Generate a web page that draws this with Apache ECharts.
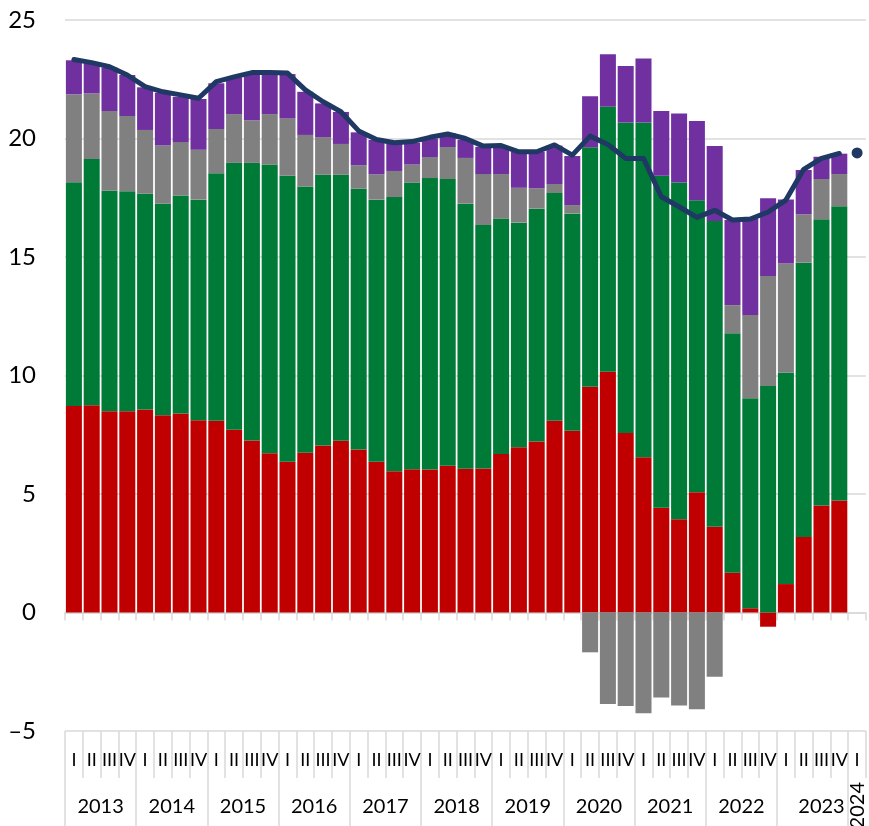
<!DOCTYPE html>
<html>
<head>
<meta charset="utf-8">
<script src="https://cdn.jsdelivr.net/npm/echarts@6/dist/echarts.min.js"></script>
<style>
  html, body { margin: 0; padding: 0; background: #ffffff; }
  #chart { width: 869px; height: 826px; }
</style>
</head>
<body>
<div id="chart"></div>
<script>
// Quarterly categories, 2013 Q1 – 2024 Q1
const categories = [
  '2013 I','2013 II','2013 III','2013 IV',
  '2014 I','2014 II','2014 III','2014 IV',
  '2015 I','2015 II','2015 III','2015 IV',
  '2016 I','2016 II','2016 III','2016 IV',
  '2017 I','2017 II','2017 III','2017 IV',
  '2018 I','2018 II','2018 III','2018 IV',
  '2019 I','2019 II','2019 III','2019 IV',
  '2020 I','2020 II','2020 III','2020 IV',
  '2021 I','2021 II','2021 III','2021 IV',
  '2022 I','2022 II','2022 III','2022 IV',
  '2023 I','2023 II','2023 III','2023 IV',
  '2024 I'
];

// Value axis ticks
const yTicks = [-5, 0, 5, 10, 15, 20, 25];

// Stacked components
const redValues = [
  8.71, 8.74, 8.49, 8.49, 8.57, 8.32, 8.40, 8.11, 8.09, 7.71, 7.26, 6.72,
  6.36, 6.74, 7.05, 7.25, 6.88, 6.36, 5.96, 6.04, 6.03, 6.19, 6.07, 6.08,
  6.69, 6.97, 7.22, 8.09, 7.67, 9.53, 10.16, 7.57, 6.55, 4.42, 3.93, 5.07,
  3.62, 1.68, 0.18, -0.60, 1.20, 3.19, 4.51, 4.73, null
];
const greenValues = [
  9.44, 10.39, 9.31, 9.28, 9.10, 8.93, 9.19, 9.31, 10.44, 11.26, 11.71, 12.18,
  12.07, 11.23, 11.42, 11.22, 11.00, 11.06, 11.57, 12.10, 12.30, 12.10, 11.18, 10.27,
  9.93, 9.48, 9.82, 9.61, 9.16, 10.10, 11.18, 13.10, 14.12, 14.01, 14.21, 12.32,
  12.90, 10.10, 8.86, 9.56, 8.92, 11.57, 12.08, 12.41, null
];
const grayValues = [
  3.71, 2.77, 3.36, 3.18, 2.69, 2.45, 2.26, 2.11, 1.87, 2.06, 1.80, 2.13,
  2.42, 2.18, 1.59, 1.30, 0.99, 1.07, 1.10, 0.76, 0.89, 1.35, 1.93, 2.15,
  1.88, 1.47, 0.86, 0.38, 0.36, -1.68, -3.86, -3.95, -4.25, -3.59, -3.92, -4.08,
  -2.71, 1.19, 3.51, 4.64, 4.61, 2.04, 1.70, 1.36, null
];
const purpleValues = [
  1.44, 1.27, 1.83, 1.73, 1.80, 2.23, 1.91, 2.14, 1.93, 1.55, 1.91, 1.65,
  1.87, 1.82, 1.42, 1.35, 1.39, 1.45, 1.17, 0.92, 0.78, 0.58, 0.76, 1.15,
  1.15, 1.52, 1.54, 1.62, 2.07, 2.15, 2.21, 2.39, 2.71, 2.73, 2.91, 3.35,
  3.16, 3.59, 4.05, 3.28, 2.70, 1.87, 0.94, 0.86, null
];

// Total line and the latest single observation
const totalValues = [
  23.33, 23.20, 23.03, 22.68, 22.19, 21.97, 21.84, 21.70, 22.40, 22.60, 22.78, 22.78,
  22.76, 22.05, 21.55, 21.13, 20.32, 19.96, 19.82, 19.87, 20.05, 20.19, 20.00, 19.68,
  19.70, 19.44, 19.44, 19.73, 19.30, 20.10, 19.75, 19.16, 19.16, 17.54, 17.12, 16.67,
  16.97, 16.56, 16.60, 16.90, 17.40, 18.70, 19.16, 19.37, null
];
const latestValue = 19.39;

// Year groups derived from the categories (start index, size, label position)
const yearGroups = [];
categories.forEach(function (c, i) {
  const y = c.split(' ')[0];
  const last = yearGroups[yearGroups.length - 1];
  if (last && last.year === y) { last.count += 1; }
  else { yearGroups.push({ year: y, start: i, count: 1 }); }
});
yearGroups.forEach(function (g, i) {
  g.center = g.start + g.count / 2;
  // a full year followed by a one-quarter year gets its label nudged right
  const next = yearGroups[i + 1];
  if (next && next.count === 1 && g.count > 1) { g.center += 0.5; }
});
const fullYears = yearGroups.filter(function (g) { return g.count > 1; });
const shortYears = yearGroups.filter(function (g) { return g.count === 1; });
const yearByCenter = {};
yearGroups.forEach(function (g) { yearByCenter[g.center] = g.year; });

const FONT = 'Lato';
const GRID = '#d9d9d9';
const INK = '#000000';
const NAVY = '#1F3864';

const chart = echarts.init(document.getElementById('chart'), null, { renderer: 'canvas' });

const barBase = {
  type: 'bar',
  stack: 'total',
  xAxisIndex: 0,
  barCategoryGap: '10%',
  emphasis: { disabled: true }
};

const option = {
  animation: false,
  backgroundColor: '#ffffff',
  textStyle: { fontFamily: FONT },
  grid: { left: 65, right: 3, top: 20, bottom: 95, containLabel: false, outerBoundsMode: 'none' },
  xAxis: [
    {
      // zero line with small boundary ticks
      type: 'category',
      data: categories,
      position: 'bottom',
      axisLine: { show: true, onZero: true, lineStyle: { color: GRID, width: 1.5 } },
      axisTick: { show: true, interval: 0, length: 8, lineStyle: { color: GRID, width: 1.5 } },
      axisLabel: { show: false },
      splitLine: { show: false }
    },
    {
      // quarter labels and separators
      type: 'category',
      data: categories,
      position: 'bottom',
      axisLine: { show: false, onZero: false },
      axisTick: { show: true, interval: 0, length: 47, lineStyle: { color: GRID, width: 1.5 } },
      axisLabel: {
        interval: 0, margin: 20, fontSize: 18, color: INK, fontFamily: FONT,
        formatter: function (v) { return v.split(' ')[1]; }
      },
      splitLine: { show: false }
    },
    {
      // year labels and year separators
      type: 'value',
      min: 0,
      max: categories.length,
      position: 'bottom',
      axisLine: { show: false, onZero: false },
      splitLine: { show: false },
      axisTick: {
        show: true,
        customValues: yearGroups.map(function (g) { return g.start; }),
        length: 95,
        lineStyle: { color: GRID, width: 1.5 }
      },
      axisLabel: {
        customValues: fullYears.map(function (g) { return g.center; }),
        margin: 66, fontSize: 20, color: INK, fontFamily: FONT,
        formatter: function (v) { return yearByCenter[v] || ''; }
      }
    },
    {
      // single-quarter year, written vertically
      type: 'value',
      min: 0,
      max: categories.length,
      position: 'bottom',
      axisLine: { show: false, onZero: false },
      splitLine: { show: false },
      axisTick: { show: false },
      axisLabel: {
        customValues: shortYears.map(function (g) { return g.center; }),
        rotate: 90, margin: 51, fontSize: 20, color: INK, fontFamily: FONT,
        formatter: function (v) { return yearByCenter[v] || ''; }
      }
    }
  ],
  yAxis: {
    type: 'value',
    min: yTicks[0],
    max: yTicks[yTicks.length - 1],
    interval: yTicks[1] - yTicks[0],
    axisLine: { show: false },
    axisTick: { show: false },
    splitLine: { show: true, lineStyle: { color: GRID, width: 1.5 } },
    axisLabel: {
      margin: 29, fontSize: 24, color: INK, fontFamily: FONT,
      formatter: function (v) { return v < 0 ? '\u2013' + Math.abs(v) : String(v); }
    }
  },
  series: [
    Object.assign({}, barBase, { name: 'Component 1', data: redValues, itemStyle: { color: '#C00000' } }),
    Object.assign({}, barBase, { name: 'Component 2', data: greenValues, itemStyle: { color: '#007A37' } }),
    Object.assign({}, barBase, { name: 'Component 3', data: grayValues, itemStyle: { color: '#808080' } }),
    Object.assign({}, barBase, { name: 'Component 4', data: purpleValues, itemStyle: { color: '#7030A0' } }),
    {
      name: 'Total',
      type: 'line',
      xAxisIndex: 0,
      data: totalValues,
      symbol: 'none',
      smooth: false,
      connectNulls: false,
      lineStyle: { color: NAVY, width: 5, join: 'round', cap: 'round' },
      emphasis: { disabled: true },
      z: 5
    },
    {
      name: 'Latest',
      type: 'scatter',
      xAxisIndex: 0,
      data: [[categories.length - 1, latestValue]],
      symbol: 'circle',
      symbolSize: 11,
      itemStyle: { color: NAVY, opacity: 1 },
      emphasis: { disabled: true },
      z: 6
    }
  ]
};

chart.setOption(option);
</script>
</body>
</html>
